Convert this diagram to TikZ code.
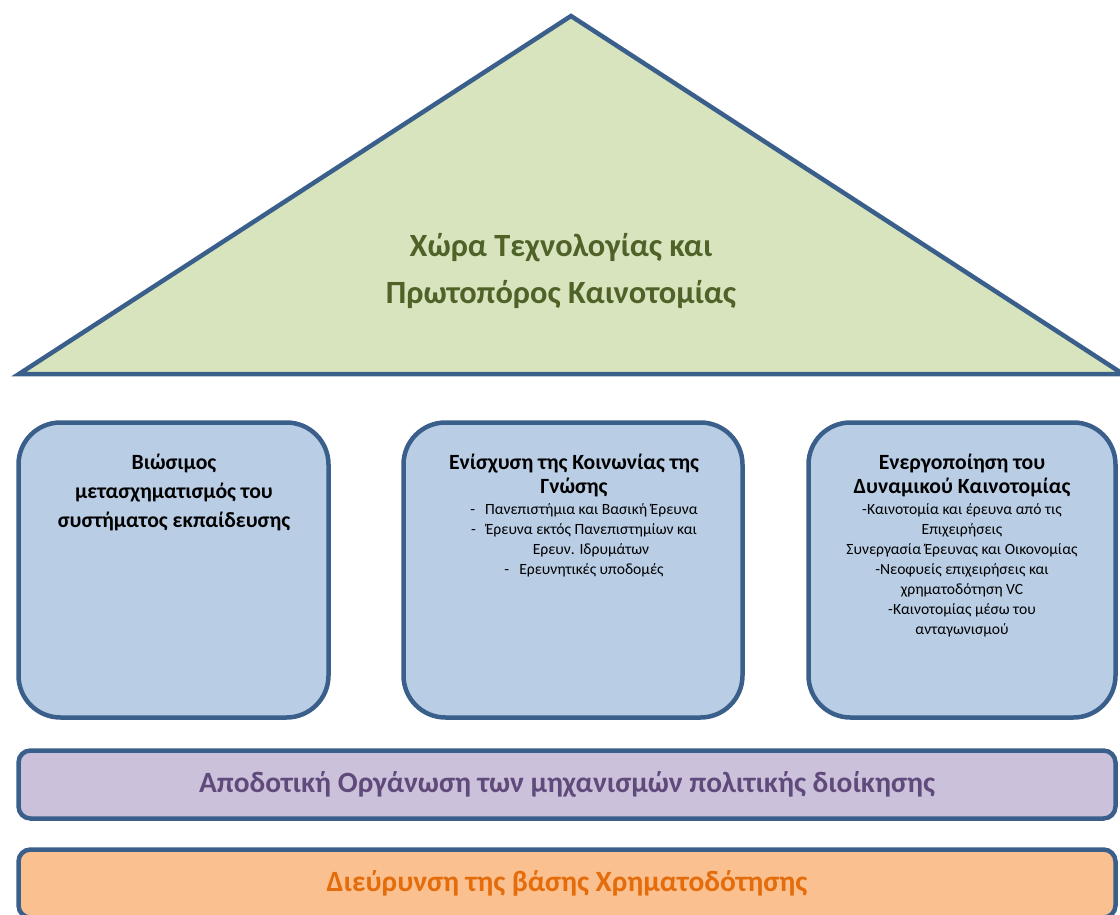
\documentclass[tikz,border=0pt]{standalone}
\usepackage{fontspec}
\setmainfont{Carlito}
\usepackage{xcolor}
\usetikzlibrary{positioning}
\definecolor{outline}{HTML}{3A5F8B}
\definecolor{roofgreen}{HTML}{D7E4BD}
\definecolor{roofink}{HTML}{4F6228}
\definecolor{pillarblue}{HTML}{B9CDE5}
\definecolor{adminfill}{HTML}{CCC1DA}
\definecolor{adminink}{HTML}{604A7B}
\definecolor{fundfill}{HTML}{FAC090}
\definecolor{fundink}{HTML}{E46C0A}
\tikzset{
  roof/.style={draw=outline, fill=roofgreen, line width=4.5pt, line join=miter},
  pillar/.style={draw=outline, fill=pillarblue, line width=4.5pt, rounded corners=42pt, minimum height=295pt, inner sep=0pt},
  pillartitle/.style={align=center, anchor=base, inner sep=0pt, font=\fontsize{21.7}{24.5}\selectfont\bfseries},
  pillarlist/.style={align=center, anchor=base, inner sep=0pt, font=\fontsize{15.6}{20}\selectfont},
  bar/.style={draw=outline, line width=4.5pt, rounded corners=12pt, minimum width=1097pt, minimum height=68pt, inner sep=0pt, font=\fontsize{29.4}{34}\selectfont\bfseries}
}
\begin{document}
\begin{tikzpicture}[x=1pt,y=-1pt]
      \useasboundingbox (0,0) rectangle (1120,915);
      \clip (0,0) rectangle (1120,915);

      \draw[roof] (19,374) coordinate (eaveL) -- (571,16) coordinate (ridge) -- (1123,374) coordinate (eaveR) -- cycle;
      \node (vision) at (561,303) [align=center, anchor=base, inner sep=0pt, text=roofink, font=\fontsize{32.4}{47}\selectfont\bfseries] {Χώρα Τεχνολογίας και\\Πρωτοπόρος Καινοτομίας};

      \node (edu) at (173.5,570) [pillar, minimum width=310pt] {};
      \node (know) at (573,570) [pillar, minimum width=339pt] {};
      \node (innov) at (962,570) [pillar, minimum width=307pt] {};

      \node (eduT) at (174,527) [pillartitle, font=\fontsize{21.7}{29}\selectfont\bfseries] {Βιώσιμος\\μετασχηματισμός του\\συστήματος εκπαίδευσης};

      \node (knowT) at (574,493.5) [pillartitle] {Ενίσχυση της Κοινωνίας της\\Γνώσης};
      \node (knowL) at (584,574) [pillarlist] {-\hspace{10pt}Πανεπιστήμια και Βασική Έρευνα\\-\hspace{10pt}Έρευνα εκτός Πανεπιστημίων και\\\hspace*{14pt}Ερευν. Ιδρυμάτων\\-\hspace{10pt}Ερευνητικές υποδομές};

      \node (innovT) at (962,493.5) [pillartitle] {Ενεργοποίηση του\\Δυναμικού Καινοτομίας};
      \node (innovL) at (962,634) [pillarlist] {-Καινοτομία και έρευνα από τις\\Επιχειρήσεις\\Συνεργασία Έρευνας και Οικονομίας\\-Νεοφυείς επιχειρήσεις και\\χρηματοδότηση VC\\-Καινοτομίας μέσω του\\ανταγωνισμού};

      \node (admin) at (567,784.5) [bar, fill=adminfill, text=adminink] {Αποδοτική Οργάνωση των μηχανισμών πολιτικής διοίκησης};
      \node (funding) at (567,883.5) [bar, fill=fundfill, text=fundink] {Διεύρυνση της βάσης Χρηματοδότησης};
\end{tikzpicture}
\end{document}
